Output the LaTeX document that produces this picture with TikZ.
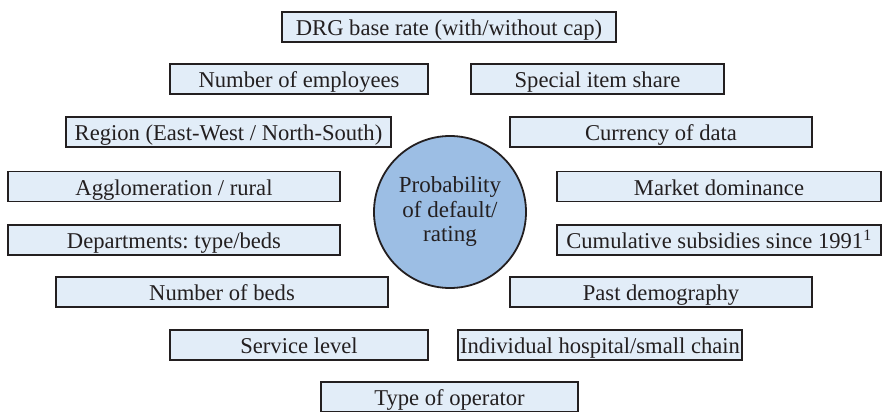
\documentclass[tikz,border=0pt]{standalone}
\usepackage{fontspec}
\setmainfont{Liberation Serif}
\frenchspacing
\definecolor{boxfill}{HTML}{E2EDF8}
\definecolor{circfill}{HTML}{9CBEE4}
\definecolor{edge}{HTML}{231F20}
\begin{document}
\begin{tikzpicture}[x=1pt,y=-1pt,
  factor/.style={draw=edge, fill=boxfill, line width=1.8pt, inner sep=0pt,
    minimum height=30pt, text height=20pt, text depth=3pt,
    font=\fontsize{22.6}{24}\selectfont, text=edge},
  centre/.style={circle, draw=edge, fill=circfill, line width=1.8pt, minimum size=152pt,
    inner sep=0pt, align=center, font=\fontsize{23}{24.5}\selectfont, text=edge}]
\useasboundingbox (0,0) rectangle (883,412);
\node[factor, minimum width=334pt] (drg) at (449,27) {DRG base rate (with/without cap)};
\node[factor, minimum width=258pt] (emp) at (299,79) {Number of employees};
\node[factor, minimum width=253pt] (spec) at (597.5,79) {Special item share};
\node[factor, minimum width=325pt] (reg) at (228.5,132) {Region (East-West / North-South)};
\node[factor, minimum width=302pt] (cur) at (661,132) {Currency of data};
\node[factor, minimum width=332pt] (agg) at (174,186.5) {Agglomeration / rural};
\node[factor, minimum width=324pt] (mkt) at (719,186.5) {Market dominance};
\node[factor, minimum width=332pt] (dep) at (174,240) {Departments: type/beds};
\node[factor, minimum width=324pt] (sub) at (719,240) {Cumulative subsidies since 1991\textsuperscript{1}};
\node[factor, minimum width=332pt] (beds) at (222,292) {Number of beds};
\node[factor, minimum width=302pt] (demo) at (661,292) {Past demography};
\node[factor, minimum width=258pt] (serv) at (299,345) {Service level};
\node[factor, minimum width=284pt] (ind) at (600,345) {Individual hospital/small chain};
\node[factor, minimum width=257pt] (op) at (449.5,397) {Type of operator};
\node[centre] (pd) at (450,212) {Probability\\of default/\\rating};
\end{tikzpicture}
\end{document}
